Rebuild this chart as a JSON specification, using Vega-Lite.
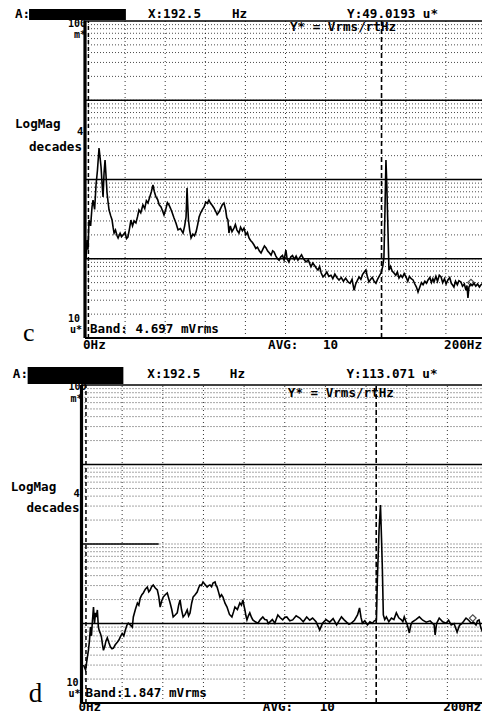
{
"$schema":"https://vega.github.io/schema/vega-lite/v6.json",
"width":482,"height":713,"padding":0,"autosize":{"type":"none"},
"background":"#ffffff",
"config":{"view":{"stroke":null},"text":{"font":"DejaVu Sans Mono","fontWeight":"bold","fontSize":12.6,"fill":"#000000"}},
"datasets":{
"hgrid":[{"v":20},{"v":30},{"v":40},{"v":50},{"v":60},{"v":70},{"v":80},{"v":90},{"v":100},{"v":200},{"v":300},{"v":400},{"v":500},{"v":600},{"v":700},{"v":800},{"v":900},{"v":1000},{"v":2000},{"v":3000},{"v":4000},{"v":5000},{"v":6000},{"v":7000},{"v":8000},{"v":9000},{"v":10000},{"v":20000},{"v":30000},{"v":40000},{"v":50000},{"v":60000},{"v":70000},{"v":80000},{"v":90000}],
"vgrid":[{"f":20},{"f":40},{"f":60},{"f":80},{"f":100},{"f":120},{"f":140},{"f":160},{"f":180}],
"c_dec":[{"v":100000,"f":0,"f2":200},{"v":10000,"f":0,"f2":200},{"v":1000,"f":0,"f2":200},{"v":100,"f":0,"f2":200}],
"d_dec":[{"v":100000,"f":0,"f2":200},{"v":10000,"f":0,"f2":200},{"v":1000,"f":0,"f2":38},{"v":100,"f":0,"f2":200}],
"c_mark":[{"f":147.9}],
"d_mark":[{"f":145.0}],
"c_ldash":[{"f":1.7}],
"d_ldash":[{"f":2.2}],
"c_pt":[{"f":192.5,"v":50}],
"d_pt":[{"f":192.5,"v":117}],
"c_box":[{"f":-27.9,"f2":20.4,"v":103000,"v2":141600}],
"d_box":[{"f":-26.5,"f2":20.6,"v":103000,"v2":168300}],
"c_tl":[{"f":-34.9,"v":122500,"t":"A:"},{"f":31.4,"v":122500,"t":"X:192.5"},{"f":73.3,"v":122500,"t":"Hz"},{"f":130.7,"v":122500,"t":"Y:49.0193 u*"},{"f":102.2,"v":84000,"t":"Y* = Vrms/rtHz"},{"f":-34.9,"v":5010,"t":"LogMag"},{"f":2.5,"v":13.0,"t":"Band: 4.697 mVrms"},{"f":-1.0,"v":8.16,"t":"0Hz"},{"f":91.3,"v":8.16,"t":"AVG:"},{"f":118.7,"v":8.16,"t":"10"}],
"c_tr":[{"f":-1.5,"v":2607,"t":"decades"},{"f":198.0,"v":8.16,"t":"200Hz"}],
"c_ends":[{"f":0.5,"v":92900,"t":"100"},{"f":0.5,"v":66500,"t":"m*"},{"f":-2.5,"v":17.6,"t":"10"},{"f":-1.5,"v":12.6,"t":"u*"}],
"c_four":[{"f":-4.0,"v":3970,"t":"4"}],
"c_letter":[{"f":-30.9,"v":9.17,"t":"c"}],
"d_tl":[{"f":-33.8,"v":137400,"t":"A:"},{"f":32.4,"v":137400,"t":"X:192.5"},{"f":73.0,"v":137400,"t":"Hz"},{"f":130.4,"v":137400,"t":"Y:113.071 u*"},{"f":101.5,"v":79300,"t":"Y* = Vrms/rtHz"},{"f":-34.8,"v":5210,"t":"LogMag"},{"f":2.0,"v":13.36,"t":"Band:1.847 mVrms"},{"f":-1.5,"v":8.9,"t":"0Hz"},{"f":89.2,"v":8.9,"t":"AVG:"},{"f":117.2,"v":8.9,"t":"10"}],
"d_tr":[{"f":-1.0,"v":2840,"t":"decades"},{"f":196.6,"v":8.9,"t":"200Hz"}],
"d_ends":[{"f":2.45,"v":94400,"t":"100"},{"f":0.5,"v":66700,"t":"m*"},{"f":-1.5,"v":17.85,"t":"10"},{"f":-0.5,"v":12.8,"t":"u*"}],
"d_four":[{"f":-3.9,"v":4260,"t":"4"}],
"d_letter":[{"f":-26.0,"v":10.3,"t":"d"}],
"c_trace":[{"f":0.5,"v":100},{"f":1.0,"v":172},{"f":1.5,"v":130},{"f":2.0,"v":308},{"f":2.8,"v":260},{"f":3.5,"v":450},{"f":4.0,"v":551},{"f":4.8,"v":420},{"f":5.5,"v":853},{"f":6.2,"v":1300},{"f":7.0,"v":2495},{"f":7.5,"v":1900},{"f":8.0,"v":1438},{"f":8.5,"v":900},{"f":9.0,"v":601},{"f":9.5,"v":1208},{"f":10.0,"v":1762},{"f":10.5,"v":1100},{"f":11.0,"v":676},{"f":11.5,"v":520},{"f":12.0,"v":412},{"f":12.8,"v":350},{"f":13.5,"v":308},{"f":14.0,"v":250},{"f":14.5,"v":211},{"f":15.2,"v":230},{"f":16.0,"v":195},{"f":16.5,"v":183},{"f":17.5,"v":210},{"f":18.2,"v":190},{"f":19.0,"v":200},{"f":20.0,"v":215},{"f":20.7,"v":180},{"f":21.4,"v":188},{"f":22.2,"v":240},{"f":22.9,"v":308},{"f":23.7,"v":260},{"f":24.5,"v":300},{"f":25.4,"v":283},{"f":26.2,"v":340},{"f":26.9,"v":412},{"f":27.8,"v":380},{"f":28.9,"v":477},{"f":29.8,"v":430},{"f":30.6,"v":540},{"f":31.4,"v":505},{"f":32.3,"v":600},{"f":33.1,"v":700},{"f":33.9,"v":853},{"f":34.6,"v":700},{"f":35.4,"v":601},{"f":36.2,"v":560},{"f":37.0,"v":480},{"f":37.9,"v":450},{"f":38.7,"v":400},{"f":39.4,"v":357},{"f":40.3,"v":420},{"f":41.1,"v":510},{"f":41.9,"v":477},{"f":42.7,"v":430},{"f":43.5,"v":380},{"f":44.4,"v":327},{"f":45.4,"v":280},{"f":46.4,"v":231},{"f":47.6,"v":240},{"f":48.9,"v":211},{"f":49.7,"v":260},{"f":50.4,"v":336},{"f":50.9,"v":781},{"f":51.2,"v":500},{"f":51.6,"v":308},{"f":52.2,"v":230},{"f":52.9,"v":183},{"f":53.8,"v":205},{"f":54.6,"v":195},{"f":55.4,"v":218},{"f":56.2,"v":270},{"f":56.9,"v":336},{"f":57.7,"v":380},{"f":58.6,"v":420},{"f":59.4,"v":450},{"f":60.2,"v":520},{"f":61.0,"v":500},{"f":61.8,"v":551},{"f":62.6,"v":500},{"f":63.5,"v":470},{"f":64.3,"v":437},{"f":65.1,"v":400},{"f":65.9,"v":360},{"f":66.8,"v":389},{"f":67.6,"v":430},{"f":68.5,"v":480},{"f":69.3,"v":505},{"f":70.1,"v":420},{"f":70.7,"v":330},{"f":71.3,"v":308},{"f":71.8,"v":211},{"f":72.5,"v":260},{"f":73.3,"v":220},{"f":74.3,"v":244},{"f":75.0,"v":270},{"f":75.8,"v":230},{"f":76.8,"v":211},{"f":77.6,"v":250},{"f":78.5,"v":225},{"f":79.3,"v":244},{"f":80.2,"v":200},{"f":81.0,"v":215},{"f":81.8,"v":183},{"f":82.6,"v":170},{"f":83.5,"v":160},{"f":84.3,"v":149},{"f":85.2,"v":135},{"f":86.0,"v":140},{"f":87.0,"v":125},{"f":87.8,"v":118},{"f":88.6,"v":130},{"f":89.5,"v":145},{"f":90.3,"v":137},{"f":91.1,"v":125},{"f":92.0,"v":118},{"f":92.8,"v":111},{"f":93.6,"v":126},{"f":94.3,"v":122},{"f":95.2,"v":108},{"f":96.0,"v":100},{"f":96.8,"v":96},{"f":97.6,"v":105},{"f":98.5,"v":110},{"f":99.3,"v":96},{"f":100.2,"v":129},{"f":100.8,"v":100},{"f":101.7,"v":91},{"f":102.6,"v":105},{"f":103.5,"v":110},{"f":104.4,"v":98},{"f":105.3,"v":108},{"f":106.2,"v":96},{"f":107.1,"v":104},{"f":108.0,"v":112},{"f":109.0,"v":100},{"f":110.2,"v":91},{"f":111.4,"v":96},{"f":112.7,"v":79},{"f":113.6,"v":88},{"f":114.5,"v":82},{"f":115.4,"v":76},{"f":116.2,"v":72},{"f":117.0,"v":80},{"f":117.8,"v":66},{"f":118.7,"v":59},{"f":119.6,"v":62},{"f":120.6,"v":68},{"f":121.6,"v":60},{"f":122.7,"v":62},{"f":123.6,"v":56},{"f":124.6,"v":64},{"f":125.6,"v":58},{"f":126.7,"v":54},{"f":127.8,"v":58},{"f":128.9,"v":52},{"f":130.0,"v":57},{"f":131.2,"v":51},{"f":132.2,"v":49},{"f":133.2,"v":55},{"f":134.2,"v":40},{"f":135.0,"v":48},{"f":135.8,"v":53},{"f":136.7,"v":59},{"f":137.6,"v":55},{"f":138.4,"v":63},{"f":139.3,"v":68},{"f":140.1,"v":72},{"f":140.8,"v":60},{"f":141.6,"v":51},{"f":142.5,"v":55},{"f":143.3,"v":58},{"f":144.2,"v":52},{"f":145.1,"v":49},{"f":145.9,"v":55},{"f":146.7,"v":60},{"f":147.6,"v":66},{"f":148.5,"v":80},{"f":149.1,"v":105},{"f":149.6,"v":400},{"f":150.1,"v":1762},{"f":150.5,"v":900},{"f":151.1,"v":231},{"f":151.6,"v":72},{"f":152.4,"v":80},{"f":153.2,"v":70},{"f":154.1,"v":66},{"f":155.0,"v":62},{"f":155.8,"v":68},{"f":156.6,"v":57},{"f":157.5,"v":62},{"f":158.3,"v":58},{"f":159.2,"v":65},{"f":160.1,"v":59},{"f":161.0,"v":52},{"f":161.8,"v":60},{"f":162.7,"v":56},{"f":163.6,"v":54},{"f":164.5,"v":48},{"f":165.3,"v":44},{"f":166.1,"v":38},{"f":167.0,"v":44},{"f":167.8,"v":50},{"f":168.6,"v":47},{"f":169.5,"v":52},{"f":170.3,"v":49},{"f":171.1,"v":54},{"f":172.0,"v":58},{"f":172.8,"v":50},{"f":173.5,"v":56},{"f":174.1,"v":51},{"f":175.0,"v":60},{"f":175.8,"v":52},{"f":176.7,"v":62},{"f":177.6,"v":59},{"f":178.4,"v":50},{"f":179.3,"v":56},{"f":180.1,"v":48},{"f":181.0,"v":54},{"f":181.9,"v":58},{"f":182.7,"v":49},{"f":183.5,"v":46},{"f":184.0,"v":44},{"f":184.8,"v":52},{"f":185.7,"v":47},{"f":186.5,"v":53},{"f":187.5,"v":51},{"f":188.3,"v":45},{"f":189.2,"v":48},{"f":190.0,"v":40},{"f":190.5,"v":46},{"f":191.0,"v":32},{"f":191.5,"v":44},{"f":192.4,"v":48},{"f":193.2,"v":46},{"f":194.0,"v":49},{"f":194.9,"v":45},{"f":195.8,"v":48},{"f":196.7,"v":44},{"f":197.5,"v":47},{"f":198.4,"v":49},{"f":199.3,"v":46},{"f":200,"v":48}],
"d_trace":[{"f":1.0,"v":30},{"f":2.0,"v":26},{"f":2.9,"v":38},{"f":3.4,"v":46},{"f":3.9,"v":60},{"f":4.4,"v":90},{"f":4.9,"v":70},{"f":5.4,"v":110},{"f":5.9,"v":161},{"f":6.4,"v":101},{"f":6.9,"v":136},{"f":7.3,"v":120},{"f":7.8,"v":148},{"f":8.3,"v":90},{"f":8.8,"v":80},{"f":9.3,"v":75},{"f":9.8,"v":68},{"f":10.3,"v":55},{"f":10.8,"v":46},{"f":11.5,"v":52},{"f":12.0,"v":60},{"f":12.7,"v":66},{"f":13.4,"v":58},{"f":14.2,"v":51},{"f":15.0,"v":48},{"f":15.7,"v":49},{"f":16.6,"v":54},{"f":17.6,"v":58},{"f":18.4,"v":62},{"f":19.1,"v":68},{"f":20.0,"v":75},{"f":20.8,"v":70},{"f":21.6,"v":83},{"f":22.3,"v":95},{"f":23.0,"v":101},{"f":24.0,"v":96},{"f":25.0,"v":90},{"f":25.5,"v":121},{"f":26.5,"v":150},{"f":27.5,"v":181},{"f":28.2,"v":170},{"f":28.9,"v":209},{"f":29.7,"v":230},{"f":30.4,"v":242},{"f":31.4,"v":270},{"f":32.4,"v":288},{"f":33.1,"v":250},{"f":33.8,"v":264},{"f":34.5,"v":290},{"f":35.3,"v":305},{"f":36.3,"v":280},{"f":37.3,"v":264},{"f":38.0,"v":220},{"f":38.7,"v":161},{"f":39.4,"v":190},{"f":40.2,"v":215},{"f":41.2,"v":230},{"f":42.2,"v":242},{"f":42.9,"v":210},{"f":43.6,"v":181},{"f":44.4,"v":150},{"f":45.1,"v":121},{"f":46.1,"v":128},{"f":47.1,"v":136},{"f":47.8,"v":170},{"f":48.5,"v":198},{"f":49.2,"v":150},{"f":50.0,"v":121},{"f":51.0,"v":130},{"f":52.0,"v":148},{"f":52.7,"v":125},{"f":53.4,"v":136},{"f":54.2,"v":180},{"f":54.9,"v":215},{"f":55.9,"v":230},{"f":56.9,"v":249},{"f":57.6,"v":280},{"f":58.3,"v":305},{"f":59.0,"v":300},{"f":59.8,"v":333},{"f":60.8,"v":310},{"f":61.8,"v":288},{"f":62.5,"v":300},{"f":63.2,"v":305},{"f":64.0,"v":290},{"f":64.7,"v":323},{"f":65.7,"v":333},{"f":66.2,"v":300},{"f":66.7,"v":288},{"f":67.4,"v":250},{"f":68.1,"v":215},{"f":68.9,"v":230},{"f":69.6,"v":215},{"f":70.6,"v":180},{"f":71.6,"v":161},{"f":72.8,"v":130},{"f":74.0,"v":121},{"f":74.8,"v":140},{"f":75.5,"v":161},{"f":76.7,"v":150},{"f":77.9,"v":181},{"f":78.7,"v":170},{"f":79.4,"v":198},{"f":79.9,"v":170},{"f":80.4,"v":148},{"f":80.9,"v":125},{"f":81.4,"v":111},{"f":82.1,"v":125},{"f":82.8,"v":136},{"f":83.6,"v":120},{"f":84.3,"v":111},{"f":85.5,"v":105},{"f":86.8,"v":101},{"f":88.0,"v":112},{"f":89.2,"v":121},{"f":90.2,"v":112},{"f":91.2,"v":111},{"f":91.9,"v":100},{"f":92.6,"v":104},{"f":93.9,"v":112},{"f":95.1,"v":101},{"f":95.9,"v":115},{"f":96.6,"v":128},{"f":97.8,"v":118},{"f":99.0,"v":111},{"f":100.0,"v":120},{"f":101.0,"v":121},{"f":102.5,"v":108},{"f":103.9,"v":111},{"f":105.6,"v":125},{"f":107.4,"v":117},{"f":109.1,"v":105},{"f":110.8,"v":121},{"f":112.3,"v":110},{"f":113.7,"v":117},{"f":115.4,"v":105},{"f":117.2,"v":83},{"f":118.6,"v":101},{"f":120.3,"v":112},{"f":122.1,"v":104},{"f":123.8,"v":115},{"f":125.5,"v":96},{"f":126.7,"v":108},{"f":127.9,"v":121},{"f":129.1,"v":112},{"f":130.4,"v":104},{"f":131.6,"v":98},{"f":132.8,"v":101},{"f":134.3,"v":110},{"f":135.8,"v":128},{"f":136.8,"v":157},{"f":137.5,"v":120},{"f":138.2,"v":101},{"f":139.4,"v":108},{"f":140.7,"v":96},{"f":141.9,"v":105},{"f":143.1,"v":101},{"f":144.1,"v":108},{"f":145.1,"v":111},{"f":145.6,"v":385},{"f":146.4,"v":1500},{"f":147.1,"v":3097},{"f":147.6,"v":1200},{"f":148.0,"v":514},{"f":148.5,"v":128},{"f":149.2,"v":112},{"f":150.0,"v":121},{"f":151.2,"v":105},{"f":152.5,"v":117},{"f":153.7,"v":112},{"f":154.9,"v":136},{"f":156.1,"v":118},{"f":157.4,"v":111},{"f":158.1,"v":105},{"f":158.8,"v":121},{"f":159.5,"v":108},{"f":160.3,"v":96},{"f":161.3,"v":76},{"f":162.0,"v":95},{"f":162.7,"v":104},{"f":164.5,"v":112},{"f":166.2,"v":121},{"f":167.9,"v":110},{"f":169.6,"v":104},{"f":171.5,"v":108},{"f":173.5,"v":96},{"f":174.0,"v":72},{"f":174.7,"v":100},{"f":176.0,"v":117},{"f":177.7,"v":105},{"f":179.4,"v":101},{"f":180.6,"v":110},{"f":181.9,"v":96},{"f":183.3,"v":100},{"f":184.8,"v":78},{"f":186.0,"v":95},{"f":187.3,"v":101},{"f":188.2,"v":108},{"f":189.2,"v":117},{"f":190.5,"v":110},{"f":191.7,"v":101},{"f":192.9,"v":104},{"f":194.1,"v":96},{"f":194.8,"v":108},{"f":195.6,"v":111},{"f":196.5,"v":88},{"f":197.2,"v":80},{"f":198.0,"v":105},{"f":199.0,"v":110},{"f":200,"v":104}]
},
"layer":[
{"layer":[
 {"data":{"name":"hgrid"},"mark":{"type":"rule","stroke":"#000000","strokeWidth":1,"strokeDash":[1,2],"opacity":0.7},
  "encoding":{"x":{"datum":0,"type":"quantitative","scale":{"type":"linear","domain":[0,200],"range":[85,486],"nice":false,"zero":false},"axis":null},"x2":{"datum":200},"y":{"field":"v","type":"quantitative","scale":{"type":"log","domain":[10,100000],"range":[338,21],"nice":false},"axis":null}}},
 {"data":{"name":"vgrid"},"mark":{"type":"rule","stroke":"#000000","strokeWidth":1,"strokeDash":[1,3],"opacity":0.8},
  "encoding":{"x":{"field":"f","type":"quantitative","scale":{"type":"linear","domain":[0,200],"range":[85,486],"nice":false,"zero":false},"axis":null},"y":{"datum":10,"type":"quantitative","scale":{"type":"log","domain":[10,100000],"range":[338,21],"nice":false},"axis":null},"y2":{"datum":100000}}},
 {"data":{"name":"c_dec"},"mark":{"type":"rule","stroke":"#000000","strokeWidth":1.4},
  "encoding":{"x":{"field":"f","type":"quantitative","scale":{"type":"linear","domain":[0,200],"range":[85,486],"nice":false,"zero":false},"axis":null},"x2":{"field":"f2"},"y":{"field":"v","type":"quantitative","scale":{"type":"log","domain":[10,100000],"range":[338,21],"nice":false},"axis":null}}},
 {"data":{"values":[{}]},"mark":{"type":"rule","stroke":"#000000","strokeWidth":2.2},
  "encoding":{"x":{"datum":0,"type":"quantitative","scale":{"type":"linear","domain":[0,200],"range":[85,486],"nice":false,"zero":false},"axis":null},"x2":{"datum":200},"y":{"datum":10,"type":"quantitative","scale":{"type":"log","domain":[10,100000],"range":[338,21],"nice":false},"axis":null}}},
 {"data":{"values":[{}]},"mark":{"type":"rule","stroke":"#000000","strokeWidth":3.2},
  "encoding":{"x":{"datum":0,"type":"quantitative","scale":{"type":"linear","domain":[0,200],"range":[85,486],"nice":false,"zero":false},"axis":null},"y":{"datum":10,"type":"quantitative","scale":{"type":"log","domain":[10,100000],"range":[338,21],"nice":false},"axis":null},"y2":{"datum":100000}}},
 {"data":{"name":"c_ldash"},"mark":{"type":"rule","stroke":"#000000","strokeWidth":1.5,"strokeDash":[4,3]},
  "encoding":{"x":{"field":"f","type":"quantitative","scale":{"type":"linear","domain":[0,200],"range":[85,486],"nice":false,"zero":false},"axis":null},"y":{"datum":10,"type":"quantitative","scale":{"type":"log","domain":[10,100000],"range":[338,21],"nice":false},"axis":null},"y2":{"datum":100000}}},
 {"data":{"name":"c_mark"},"mark":{"type":"rule","stroke":"#000000","strokeWidth":1.6,"strokeDash":[5,3]},
  "encoding":{"x":{"field":"f","type":"quantitative","scale":{"type":"linear","domain":[0,200],"range":[85,486],"nice":false,"zero":false},"axis":null},"y":{"datum":10,"type":"quantitative","scale":{"type":"log","domain":[10,100000],"range":[338,21],"nice":false},"axis":null},"y2":{"datum":100000}}},
 {"data":{"name":"c_trace"},"mark":{"type":"line","stroke":"#000000","strokeWidth":1.6},
  "encoding":{"x":{"field":"f","type":"quantitative","scale":{"type":"linear","domain":[0,200],"range":[85,486],"nice":false,"zero":false},"axis":null},"y":{"field":"v","type":"quantitative","scale":{"type":"log","domain":[10,100000],"range":[338,21],"nice":false},"axis":null}}},
 {"data":{"name":"c_pt"},"mark":{"type":"point","shape":"diamond","size":45,"filled":false,"stroke":"#000000","strokeWidth":1.2},
  "encoding":{"x":{"field":"f","type":"quantitative","scale":{"type":"linear","domain":[0,200],"range":[85,486],"nice":false,"zero":false},"axis":null},"y":{"field":"v","type":"quantitative","scale":{"type":"log","domain":[10,100000],"range":[338,21],"nice":false},"axis":null}}},
 {"data":{"name":"c_box"},"mark":{"type":"rect","fill":"#000000"},
  "encoding":{"x":{"field":"f","type":"quantitative","scale":{"type":"linear","domain":[0,200],"range":[85,486],"nice":false,"zero":false},"axis":null},"x2":{"field":"f2"},"y":{"field":"v","type":"quantitative","scale":{"type":"log","domain":[10,100000],"range":[338,21],"nice":false},"axis":null},"y2":{"field":"v2"}}},
 {"data":{"name":"c_tl"},"mark":{"type":"text","align":"left","baseline":"middle"},
  "encoding":{"x":{"field":"f","type":"quantitative","scale":{"type":"linear","domain":[0,200],"range":[85,486],"nice":false,"zero":false},"axis":null},"y":{"field":"v","type":"quantitative","scale":{"type":"log","domain":[10,100000],"range":[338,21],"nice":false},"axis":null},"text":{"field":"t"}}},
 {"data":{"name":"c_tr"},"mark":{"type":"text","align":"right","baseline":"middle"},
  "encoding":{"x":{"field":"f","type":"quantitative","scale":{"type":"linear","domain":[0,200],"range":[85,486],"nice":false,"zero":false},"axis":null},"y":{"field":"v","type":"quantitative","scale":{"type":"log","domain":[10,100000],"range":[338,21],"nice":false},"axis":null},"text":{"field":"t"}}},
 {"data":{"name":"c_ends"},"mark":{"type":"text","align":"right","baseline":"middle","fontSize":10},
  "encoding":{"x":{"field":"f","type":"quantitative","scale":{"type":"linear","domain":[0,200],"range":[85,486],"nice":false,"zero":false},"axis":null},"y":{"field":"v","type":"quantitative","scale":{"type":"log","domain":[10,100000],"range":[338,21],"nice":false},"axis":null},"text":{"field":"t"}}},
 {"data":{"name":"c_four"},"mark":{"type":"text","align":"left","baseline":"middle","fontSize":10.5},
  "encoding":{"x":{"field":"f","type":"quantitative","scale":{"type":"linear","domain":[0,200],"range":[85,486],"nice":false,"zero":false},"axis":null},"y":{"field":"v","type":"quantitative","scale":{"type":"log","domain":[10,100000],"range":[338,21],"nice":false},"axis":null},"text":{"field":"t"}}},
 {"data":{"name":"c_letter"},"mark":{"type":"text","align":"left","baseline":"alphabetic","font":"Liberation Serif","fontWeight":"normal","fontSize":26},
  "encoding":{"x":{"field":"f","type":"quantitative","scale":{"type":"linear","domain":[0,200],"range":[85,486],"nice":false,"zero":false},"axis":null},"y":{"field":"v","type":"quantitative","scale":{"type":"log","domain":[10,100000],"range":[338,21],"nice":false},"axis":null},"text":{"field":"t"}}}
]},
{"layer":[
 {"data":{"name":"hgrid"},"mark":{"type":"rule","stroke":"#000000","strokeWidth":1,"strokeDash":[1,2],"opacity":0.7},
  "encoding":{"x":{"datum":0,"type":"quantitative","scale":{"type":"linear","domain":[0,200],"range":[81.5,488],"nice":false,"zero":false},"axis":null},"x2":{"datum":200},"y":{"field":"v","type":"quantitative","scale":{"type":"log","domain":[10,100000],"range":[703,385],"nice":false},"axis":null}}},
 {"data":{"name":"vgrid"},"mark":{"type":"rule","stroke":"#000000","strokeWidth":1,"strokeDash":[1,3],"opacity":0.8},
  "encoding":{"x":{"field":"f","type":"quantitative","scale":{"type":"linear","domain":[0,200],"range":[81.5,488],"nice":false,"zero":false},"axis":null},"y":{"datum":10,"type":"quantitative","scale":{"type":"log","domain":[10,100000],"range":[703,385],"nice":false},"axis":null},"y2":{"datum":100000}}},
 {"data":{"name":"d_dec"},"mark":{"type":"rule","stroke":"#000000","strokeWidth":1.4},
  "encoding":{"x":{"field":"f","type":"quantitative","scale":{"type":"linear","domain":[0,200],"range":[81.5,488],"nice":false,"zero":false},"axis":null},"x2":{"field":"f2"},"y":{"field":"v","type":"quantitative","scale":{"type":"log","domain":[10,100000],"range":[703,385],"nice":false},"axis":null}}},
 {"data":{"values":[{}]},"mark":{"type":"rule","stroke":"#000000","strokeWidth":2.2},
  "encoding":{"x":{"datum":0,"type":"quantitative","scale":{"type":"linear","domain":[0,200],"range":[81.5,488],"nice":false,"zero":false},"axis":null},"x2":{"datum":200},"y":{"datum":10,"type":"quantitative","scale":{"type":"log","domain":[10,100000],"range":[703,385],"nice":false},"axis":null}}},
 {"data":{"values":[{}]},"mark":{"type":"rule","stroke":"#000000","strokeWidth":3.2},
  "encoding":{"x":{"datum":0,"type":"quantitative","scale":{"type":"linear","domain":[0,200],"range":[81.5,488],"nice":false,"zero":false},"axis":null},"y":{"datum":10,"type":"quantitative","scale":{"type":"log","domain":[10,100000],"range":[703,385],"nice":false},"axis":null},"y2":{"datum":100000}}},
 {"data":{"name":"d_ldash"},"mark":{"type":"rule","stroke":"#000000","strokeWidth":1.5,"strokeDash":[4,3]},
  "encoding":{"x":{"field":"f","type":"quantitative","scale":{"type":"linear","domain":[0,200],"range":[81.5,488],"nice":false,"zero":false},"axis":null},"y":{"datum":10,"type":"quantitative","scale":{"type":"log","domain":[10,100000],"range":[703,385],"nice":false},"axis":null},"y2":{"datum":100000}}},
 {"data":{"name":"d_mark"},"mark":{"type":"rule","stroke":"#000000","strokeWidth":1.6,"strokeDash":[5,3]},
  "encoding":{"x":{"field":"f","type":"quantitative","scale":{"type":"linear","domain":[0,200],"range":[81.5,488],"nice":false,"zero":false},"axis":null},"y":{"datum":10,"type":"quantitative","scale":{"type":"log","domain":[10,100000],"range":[703,385],"nice":false},"axis":null},"y2":{"datum":100000}}},
 {"data":{"name":"d_trace"},"mark":{"type":"line","stroke":"#000000","strokeWidth":1.6},
  "encoding":{"x":{"field":"f","type":"quantitative","scale":{"type":"linear","domain":[0,200],"range":[81.5,488],"nice":false,"zero":false},"axis":null},"y":{"field":"v","type":"quantitative","scale":{"type":"log","domain":[10,100000],"range":[703,385],"nice":false},"axis":null}}},
 {"data":{"name":"d_pt"},"mark":{"type":"point","shape":"diamond","size":45,"filled":false,"stroke":"#000000","strokeWidth":1.2},
  "encoding":{"x":{"field":"f","type":"quantitative","scale":{"type":"linear","domain":[0,200],"range":[81.5,488],"nice":false,"zero":false},"axis":null},"y":{"field":"v","type":"quantitative","scale":{"type":"log","domain":[10,100000],"range":[703,385],"nice":false},"axis":null}}},
 {"data":{"name":"d_box"},"mark":{"type":"rect","fill":"#000000"},
  "encoding":{"x":{"field":"f","type":"quantitative","scale":{"type":"linear","domain":[0,200],"range":[81.5,488],"nice":false,"zero":false},"axis":null},"x2":{"field":"f2"},"y":{"field":"v","type":"quantitative","scale":{"type":"log","domain":[10,100000],"range":[703,385],"nice":false},"axis":null},"y2":{"field":"v2"}}},
 {"data":{"name":"d_tl"},"mark":{"type":"text","align":"left","baseline":"middle"},
  "encoding":{"x":{"field":"f","type":"quantitative","scale":{"type":"linear","domain":[0,200],"range":[81.5,488],"nice":false,"zero":false},"axis":null},"y":{"field":"v","type":"quantitative","scale":{"type":"log","domain":[10,100000],"range":[703,385],"nice":false},"axis":null},"text":{"field":"t"}}},
 {"data":{"name":"d_tr"},"mark":{"type":"text","align":"right","baseline":"middle"},
  "encoding":{"x":{"field":"f","type":"quantitative","scale":{"type":"linear","domain":[0,200],"range":[81.5,488],"nice":false,"zero":false},"axis":null},"y":{"field":"v","type":"quantitative","scale":{"type":"log","domain":[10,100000],"range":[703,385],"nice":false},"axis":null},"text":{"field":"t"}}},
 {"data":{"name":"d_ends"},"mark":{"type":"text","align":"right","baseline":"middle","fontSize":10},
  "encoding":{"x":{"field":"f","type":"quantitative","scale":{"type":"linear","domain":[0,200],"range":[81.5,488],"nice":false,"zero":false},"axis":null},"y":{"field":"v","type":"quantitative","scale":{"type":"log","domain":[10,100000],"range":[703,385],"nice":false},"axis":null},"text":{"field":"t"}}},
 {"data":{"name":"d_four"},"mark":{"type":"text","align":"left","baseline":"middle","fontSize":10.5},
  "encoding":{"x":{"field":"f","type":"quantitative","scale":{"type":"linear","domain":[0,200],"range":[81.5,488],"nice":false,"zero":false},"axis":null},"y":{"field":"v","type":"quantitative","scale":{"type":"log","domain":[10,100000],"range":[703,385],"nice":false},"axis":null},"text":{"field":"t"}}},
 {"data":{"name":"d_letter"},"mark":{"type":"text","align":"left","baseline":"alphabetic","font":"Liberation Serif","fontWeight":"normal","fontSize":27},
  "encoding":{"x":{"field":"f","type":"quantitative","scale":{"type":"linear","domain":[0,200],"range":[81.5,488],"nice":false,"zero":false},"axis":null},"y":{"field":"v","type":"quantitative","scale":{"type":"log","domain":[10,100000],"range":[703,385],"nice":false},"axis":null},"text":{"field":"t"}}}
]}
],
"resolve":{"scale":{"x":"independent","y":"independent"}}
}
